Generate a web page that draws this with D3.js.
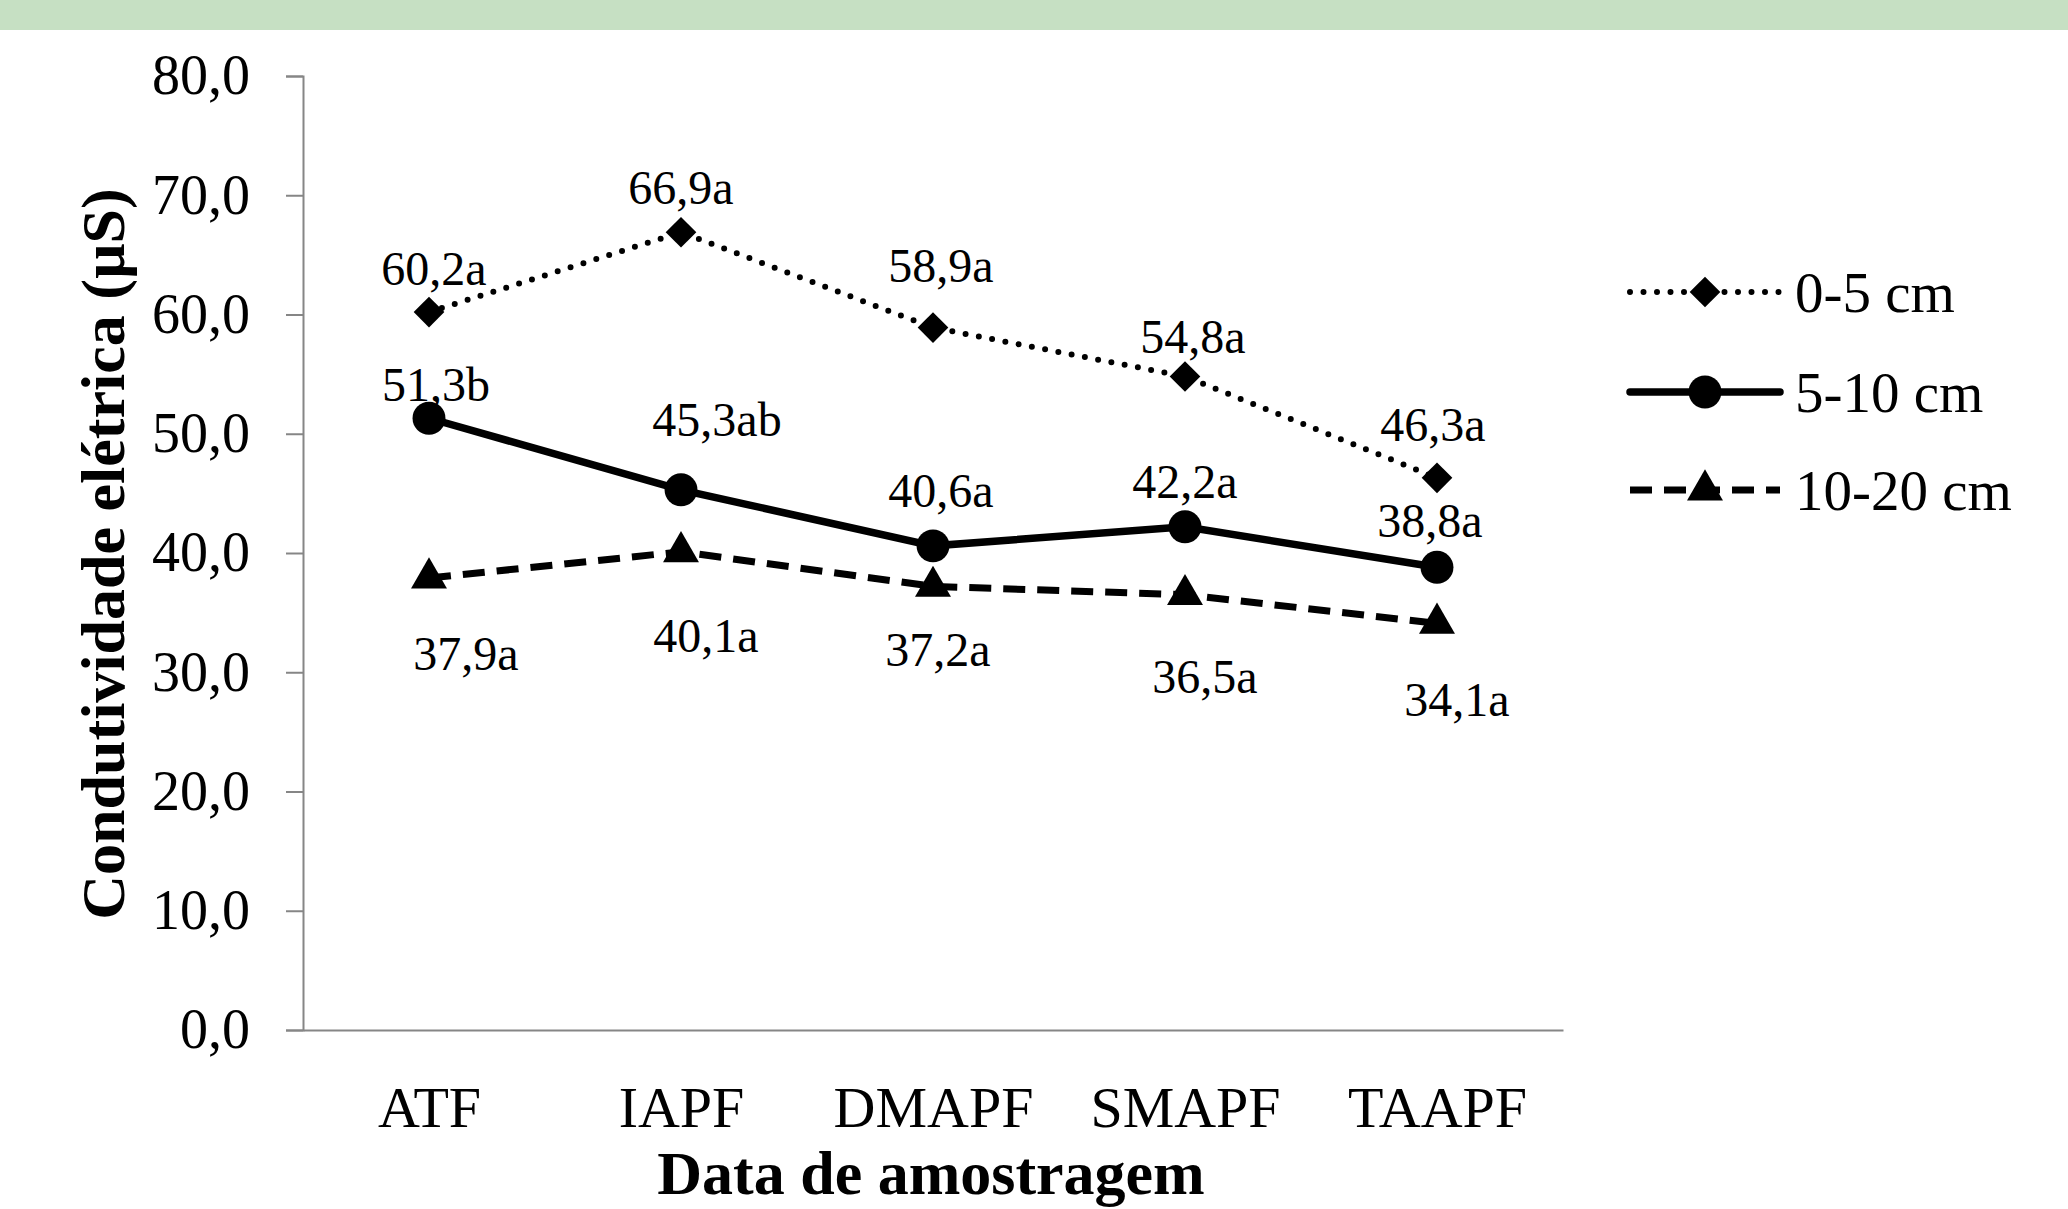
<!DOCTYPE html>
<html lang="pt">
<head>
  <meta charset="UTF-8">
  <title>Condutividade elétrica</title>
  <style>
    body { margin: 0; background: #fff; }
    text { font-family: "Times New Roman", "Liberation Serif", serif; fill: #000; }
  </style>
</head>
<body>
  <svg id="svg" width="2068" height="1209"></svg>

  <script src="https://d3js.org/d3.v7.min.js"></script>
  <script>
    // data
    const categories = ['ATF', 'IAPF', 'DMAPF', 'SMAPF', 'TAAPF']
    const seriesNames = ['0-5 cm', '5-10 cm', '10-20 cm']
    const values0to5 = [60.2, 66.9, 58.9, 54.8, 46.3]
    const values5to10 = [51.3, 45.3, 40.6, 42.2, 38.8]
    const values10to20 = [37.9, 40.1, 37.2, 36.5, 34.1]
    const letters0to5 = ['a', 'a', 'a', 'a', 'a']
    const letters5to10 = ['b', 'ab', 'a', 'a', 'a']
    const letters10to20 = ['a', 'a', 'a', 'a', 'a']
    const yTicks = [0, 10, 20, 30, 40, 50, 60, 70, 80]

    const fmt = v => v.toFixed(1).replace('.', ',')

    const series = [
      { name: seriesNames[0], values: values0to5, letters: letters0to5, marker: 'diamond', dash: '0 13.5', width: 6, cap: 'round' },
      { name: seriesNames[1], values: values5to10, letters: letters5to10, marker: 'circle', dash: null, width: 7.5, cap: 'round' },
      { name: seriesNames[2], values: values10to20, letters: letters10to20, marker: 'triangle', dash: '22 12', width: 7, cap: 'butt' }
    ]

    // where Excel put each value label, relative to its point
    const labelShift = [
      [[5, -44], [0, -45], [8, -62], [8, -40], [-4, -53]],
      [[7, -34], [36, -70], [8, -55], [0, -45], [-7, -47]],
      [[37, 75], [25, 84], [5, 63], [20, 82], [20, 76]]
    ]

    const svg = d3.select('#svg')

    // light green strip on top
    svg.append('rect')
      .attr('x', 0).attr('y', 0)
      .attr('width', 2068).attr('height', 30)
      .attr('fill', '#c6e0c3')

    const x = d3.scalePoint()
      .domain(categories)
      .range([303, 1563])
      .padding(0.5)

    const y = d3.scaleLinear()
      .domain([0, 80])
      .range([1030, 76])

    // y axis
    const yAxis = svg.append('g')
      .attr('transform', 'translate(303,0)')
      .call(d3.axisLeft(y).tickValues(yTicks).tickFormat(fmt).tickSize(17).tickSizeOuter(17).tickPadding(36))
    yAxis.select('.domain').attr('stroke', '#868686').attr('stroke-width', 2)
    yAxis.selectAll('.tick line').attr('stroke', '#868686').attr('stroke-width', 2)
    yAxis.selectAll('.tick text')
      .style('font-family', '"Times New Roman", "Liberation Serif", serif')
      .style('font-size', '56px')
      .attr('fill', '#000')

    // x axis
    const xAxis = svg.append('g')
      .attr('transform', 'translate(0,1030)')
      .call(d3.axisBottom(x).tickSize(0).tickSizeOuter(0).tickPadding(56))
    xAxis.select('.domain').attr('stroke', '#868686').attr('stroke-width', 2)
    xAxis.selectAll('.tick text')
      .style('font-family', '"Times New Roman", "Liberation Serif", serif')
      .style('font-size', '58px')
      .attr('fill', '#000')

    // axis titles
    svg.append('text')
      .attr('transform', 'translate(103,554) rotate(-90)')
      .attr('text-anchor', 'middle')
      .attr('dominant-baseline', 'central')
      .style('font-size', '62px')
      .style('font-weight', 'bold')
      .text('Condutividade elétrica (µS)')

    svg.append('text')
      .attr('x', 931)
      .attr('y', 1194)
      .attr('text-anchor', 'middle')
      .style('font-size', '62px')
      .style('font-weight', 'bold')
      .text('Data de amostragem')

    const symbolFor = {
      diamond: d3.symbol().type(d3.symbolDiamond2).size(600),
      circle: d3.symbol().type(d3.symbolCircle).size(850),
      triangle: d3.symbol().type(d3.symbolTriangle).size(560)
    }

    const line = d3.line()
      .x((d, i) => x(categories[i]))
      .y(d => y(d))

    series.forEach((s, si) => {
      const g = svg.append('g')

      g.append('path')
        .attr('d', line(s.values))
        .attr('fill', 'none')
        .attr('stroke', '#000')
        .attr('stroke-width', s.width)
        .attr('stroke-linecap', s.cap)
        .attr('stroke-dasharray', s.dash)

      g.selectAll('path.mark')
        .data(s.values)
        .join('path')
        .attr('class', 'mark')
        .attr('d', symbolFor[s.marker])
        .attr('transform', (d, i) => `translate(${x(categories[i])},${y(d)})`)
        .attr('fill', '#000')

      g.selectAll('text.val')
        .data(s.values)
        .join('text')
        .attr('class', 'val')
        .attr('x', (d, i) => x(categories[i]) + labelShift[si][i][0])
        .attr('y', (d, i) => y(d) + labelShift[si][i][1])
        .attr('text-anchor', 'middle')
        .attr('dominant-baseline', 'central')
        .style('font-size', '48px')
        .text((d, i) => fmt(d) + s.letters[i])
    })

    // legend
    const legend = svg.append('g')
      .attr('transform', 'translate(1628,0)')

    const legendRows = legend.selectAll('g')
      .data(series)
      .join('g')
      .attr('transform', (d, i) => `translate(0,${[292, 392, 490][i]})`)

    legendRows.append('line')
      .attr('x1', 2).attr('x2', 152)
      .attr('y1', 0).attr('y2', 0)
      .attr('stroke', '#000')
      .attr('stroke-width', d => d.width)
      .attr('stroke-linecap', d => d.cap)
      .attr('stroke-dasharray', d => d.dash)

    legendRows.append('path')
      .attr('d', d => symbolFor[d.marker]())
      .attr('transform', 'translate(77,0)')
      .attr('fill', '#000')

    legendRows.append('text')
      .attr('x', 167)
      .attr('y', 0)
      .attr('dominant-baseline', 'central')
      .style('font-size', '57px')
      .text(d => d.name)
  </script>
</body>
</html>
